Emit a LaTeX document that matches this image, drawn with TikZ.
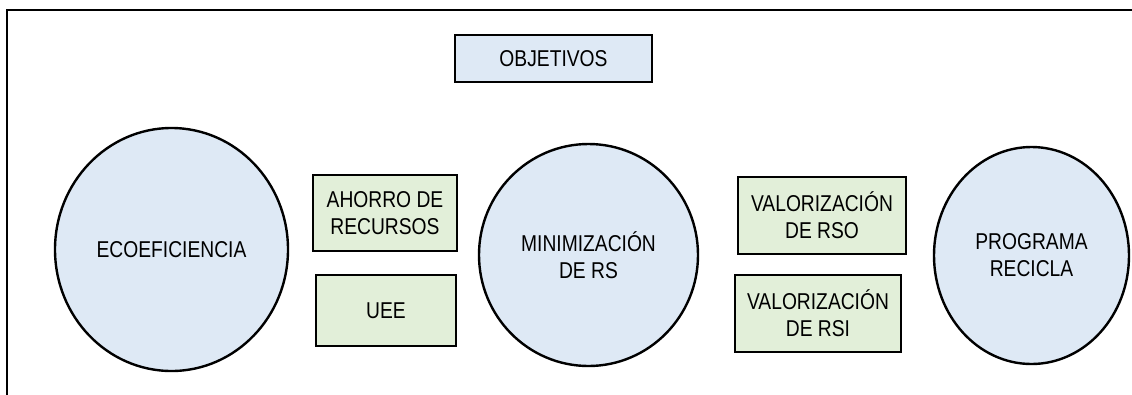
\documentclass[tikz,border=0pt]{standalone}
\usepackage{fontspec}
\setmainfont[FakeStretch=0.84]{Liberation Sans}
\usetikzlibrary{shapes.geometric}
\definecolor{circblue}{RGB}{222,233,245}
\definecolor{boxgreen}{RGB}{226,239,217}
\tikzset{
  bigcirc/.style={ellipse, draw=black, line width=2.4bp, fill=circblue, inner sep=0pt, align=center,
    font=\fontsize{23}{27}\selectfont},
  greenbox/.style={rectangle, draw=black, line width=2.4bp, fill=boxgreen, inner sep=0pt, align=center,
    font=\fontsize{23}{27}\selectfont},
  bluebox/.style={rectangle, draw=black, line width=2.4bp, fill=circblue, inner sep=0pt, align=center,
    font=\fontsize{23}{27}\selectfont},
  frameline/.style={line width=2.6bp, line cap=rect}
}
\begin{document}
\begin{tikzpicture}[x=1bp, y=-1bp]
\useasboundingbox (0,0) rectangle (1132,394);
\coordinate (fbl) at (7,396);
\coordinate (ftl) at (7,10);
\coordinate (ftr) at (1131,10);
\draw[frameline] (fbl) -- (ftl) -- (ftr);

\node[bluebox, minimum width=197bp, minimum height=47bp] (obj) at (553.5,58.5) {OBJETIVOS};

\node[bigcirc, minimum width=233bp, minimum height=243bp] (eco) at (171.5,249.5) {ECOEFICIENCIA};

\node[greenbox, minimum width=144bp, minimum height=76bp] (ahorro) at (385,213) {AHORRO DE\\RECURSOS};
\node[greenbox, minimum width=140bp, minimum height=71bp] (uee) at (386,310.5) {UEE};

\node[bigcirc, minimum width=219bp, minimum height=222bp] (mini) at (588.5,255) {MINIMIZACIÓN\\DE RS};

\node[greenbox, minimum width=168bp, minimum height=77bp] (rso) at (822,215.5) {VALORIZACIÓN\\DE RSO};
\node[greenbox, minimum width=166bp, minimum height=77bp] (rsi) at (818,313.5) {VALORIZACIÓN\\DE RSI};

\node[bigcirc, minimum width=195bp, minimum height=217bp] (prog) at (1031.5,255.5) {PROGRAMA\\RECICLA};
\end{tikzpicture}
\end{document}
